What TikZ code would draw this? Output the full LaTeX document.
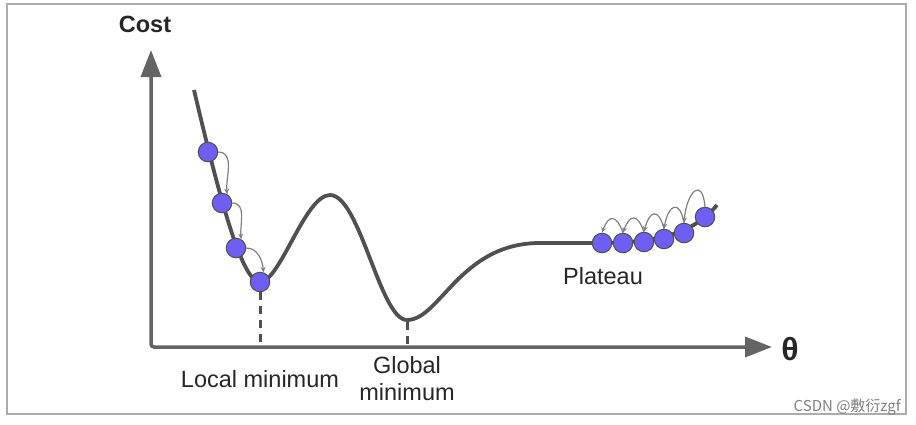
\documentclass[tikz,border=0pt]{standalone}
\usepackage{fontspec}
\setmainfont{Liberation Sans}
\newfontfamily\cjk{Noto Sans CJK SC}
\usetikzlibrary{arrows.meta}
\definecolor{axisgray}{RGB}{100,100,100}
\definecolor{curvegray}{RGB}{80,80,80}
\definecolor{ballblue}{RGB}{110,94,244}
\begin{document}
\begin{tikzpicture}[x=1pt,y=-1pt,>=Stealth,
  ball/.style={circle,draw=curvegray,line width=1pt,fill=ballblue,minimum size=19.5pt,inner sep=0pt},
  hop/.style={->,draw=gray,line width=1.2pt,>={Stealth[length=5.5pt,width=5pt]}},
  label/.style={font=\fontsize{23.5}{27}\selectfont,text=black!85,inner sep=0pt}]
\useasboundingbox (0,0) rectangle (916,424);
\draw[gray!65,line width=2pt] (7,4) rectangle (906,414);
% axes
\draw[axisgray,line width=3.5pt,rounded corners=3pt,{Triangle[length=27pt,width=20pt]}-{Triangle[length=27pt,width=20pt]}] (151,50) -- (151,347) -- (772,347);
% cost curve
\draw[curvegray,line width=3.8pt] (194,90) .. controls (220,200) and (242,282) .. (260,282)
  .. controls (280,282) and (305,195) .. (330,195)
  .. controls (360,195) and (380,320) .. (407,320)
  .. controls (440,320) and (460,243) .. (540,243)
  -- (600,243) .. controls (660,243) and (695,232) .. (717,205);
\draw[curvegray,line width=3pt,dash pattern=on 8pt off 6pt] (260,292) -- (260,345);
\draw[curvegray,line width=3pt,dash pattern=on 8pt off 6pt] (407,322) -- (407,345);
% balls
\node[ball] (b1) at (208,152) {};
\node[ball] (b2) at (222,203) {};
\node[ball] (b3) at (236,248) {};
\node[ball] (b4) at (260,282) {};
\node[ball] (p1) at (602,243) {};
\node[ball] (p2) at (623,243) {};
\node[ball] (p3) at (644,242) {};
\node[ball] (p4) at (664,239) {};
\node[ball] (p5) at (684,233) {};
\node[ball] (p6) at (705,217) {};
\draw[hop] (b1.east) to[out=0,in=95] (b2.60);
\draw[hop] (b2.east) to[out=0,in=95] (b3.60);
\draw[hop] (b3.east) to[out=0,in=95] (b4.70);
\draw[hop] (p2.north) to[out=110,in=70,looseness=2.4] (p1.north);
\draw[hop] (p3.north) to[out=110,in=70,looseness=2.4] (p2.north);
\draw[hop] (p4.north) to[out=105,in=75,looseness=2.8] (p3.north);
\draw[hop] (p5.north) to[out=100,in=80,looseness=3] (p4.north);
\draw[hop] (p6.north) to[out=95,in=85,looseness=3] (p5.north);
% labels
\node[label,font=\fontsize{23.5}{27}\selectfont\bfseries,anchor=base] (cost) at (145,32) {Cost};
\node[label,font=\fontsize{32}{34}\selectfont\bfseries,anchor=base] (theta) at (790,360) {θ};
\node[label,anchor=base] (local) at (260,387) {Local minimum};
\node[label,anchor=base] (global) at (407,373) {Global};
\node[label,anchor=base] (global2) at (407,400) {minimum};
\node[label,anchor=base] (plateau) at (603,284) {Plateau};
\node[anchor=base east,inner sep=0pt,text=gray,font=\cjk\fontsize{15}{16}\selectfont] (mark) at (901,411) {CSDN @敷衍zgf};
\end{tikzpicture}
\end{document}
